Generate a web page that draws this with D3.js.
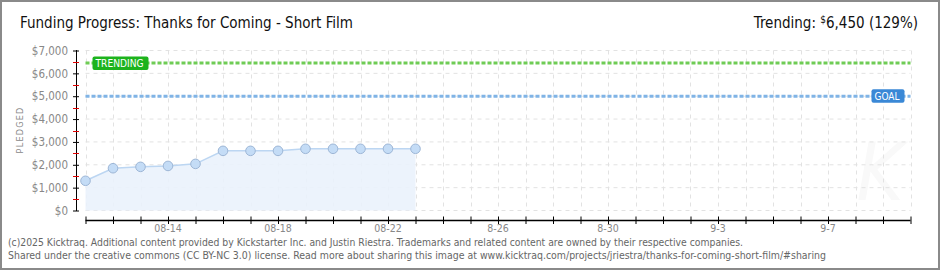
<!DOCTYPE html>
<html><head><meta charset="utf-8">
<script src="https://cdn.jsdelivr.net/npm/d3@7"></script>
<style>
html,body{margin:0;padding:0;background:#fff;}
svg{display:block;}
text{font-family:"DejaVu Sans Condensed","DejaVu Sans",sans-serif;}
</style></head>
<body><svg id="c" width="940" height="270"></svg>
<script>
const dates = ["2025-08-11","2025-08-12","2025-08-13","2025-08-14","2025-08-15","2025-08-16","2025-08-17","2025-08-18","2025-08-19","2025-08-20","2025-08-21","2025-08-22","2025-08-23"];
const pledged = [1300,1850,1910,1950,2040,2610,2610,2610,2700,2700,2700,2700,2700];
const goal = 5000;
const trending = 6450;
const yTicks = [0,1000,2000,3000,4000,5000,6000,7000];
const xLabelDates = ["2025-08-14","2025-08-18","2025-08-22","2025-08-26","2025-08-30","2025-09-03","2025-09-07"];
const xLabels = ["08-14","08-18","08-22","8-26","8-30","9-3","9-7"];
const title = "Funding Progress: Thanks for Coming - Short Film";
const footer1 = "(c)2025 Kicktraq. Additional content provided by Kickstarter Inc. and Justin Riestra. Trademarks and related content are owned by their respective companies.";
const footer2 = "Shared under the creative commons (CC BY-NC 3.0) license. Read more about sharing this image at www.kicktraq.com/projects/jriestra/thanks-for-coming-short-film/#sharing";

const svg = d3.select("#c");
const parse = d3.utcParse("%Y-%m-%d");
const x = d3.scaleUtc().domain([parse("2025-08-11"), parse("2025-09-10")]).range([85.5, 910.5]);
const y = d3.scaleLinear().domain([0,7000]).range([210.5, 50.5]);

// frame
svg.append("rect").attr("x",1).attr("y",1).attr("width",938).attr("height",268)
  .attr("fill","#fff").attr("stroke","#8a8a8a").attr("stroke-width",2);

// watermark
svg.append("text").attr("x",880).attr("y",200).attr("text-anchor","middle")
  .attr("font-size",80).attr("font-style","italic").attr("fill","#f9f9f9").text("K");

// grid
const days = d3.utcDay.range(parse("2025-08-11"), d3.utcDay.offset(parse("2025-09-10"),1));
const g = svg.append("g");
g.selectAll("line.v").data(days).join("line")
  .attr("x1",d=>Math.round(x(d))+0.5).attr("x2",d=>Math.round(x(d))+0.5)
  .attr("y1",y(7000)).attr("y2",y(0))
  .attr("stroke","#e2e2e2").attr("stroke-dasharray","4,4");
g.selectAll("line.h").data(yTicks).join("line")
  .attr("x1",x.range()[0]).attr("x2",x.range()[1])
  .attr("y1",d=>y(d)).attr("y2",d=>y(d))
  .attr("stroke","#e2e2e2").attr("stroke-dasharray","4,4");

// area + line
const pts = dates.map((d,i)=>({d:parse(d), v:pledged[i]}));
svg.append("path").datum(pts)
  .attr("d", d3.area().x(p=>x(p.d)).y0(y(0)).y1(p=>y(p.v)))
  .attr("fill","#eaf2fc").attr("opacity",0.9);
svg.append("path").datum(pts)
  .attr("d", d3.line().x(p=>x(p.d)).y(p=>y(p.v)))
  .attr("fill","none").attr("stroke","#bcd6f2").attr("stroke-width",1.5);

// goal & trending lines
svg.append("line").attr("x1",x.range()[0]).attr("x2",x.range()[1])
  .attr("y1",y(trending)).attr("y2",y(trending))
  .attr("stroke","#6fcc55").attr("stroke-width",3).attr("stroke-dasharray","4,2");
svg.append("line").attr("x1",x.range()[0]).attr("x2",x.range()[1])
  .attr("y1",y(goal)).attr("y2",y(goal))
  .attr("stroke","#80b4e6").attr("stroke-width",3).attr("stroke-dasharray","4,2");

// points
svg.selectAll("circle.p").data(pts).join("circle")
  .attr("cx",p=>x(p.d)).attr("cy",p=>y(p.v)).attr("r",4.8)
  .attr("fill","#c4dcf6").attr("stroke","#9db6d6").attr("stroke-width",1);

// label boxes
function badge(x0, w, yc, fill, txt){
  svg.append("rect").attr("x",x0).attr("y",yc-6.5).attr("width",w).attr("height",13.5)
    .attr("rx",2).attr("fill",fill);
  svg.append("text").attr("x",x0+3).attr("y",yc+4).attr("font-size",10.5)
    .attr("fill","#fff").attr("textLength",w-8).attr("lengthAdjust","spacingAndGlyphs").text(txt);
}
badge(92.5, 56, y(trending), "#1db31d", "TRENDING");
badge(871.5, 33, y(goal)-0.5, "#3a88d6", "GOAL");

// y axis
const ya = svg.append("g").attr("transform","translate(76,0)")
  .call(d3.axisLeft(y).tickValues(yTicks).tickSize(3.5).tickFormat(d=>"$"+d3.format(",")(d)));
ya.select(".domain").attr("d","M0.5,"+(y(7000)-0.5)+"V"+(y(0)+0.5)).attr("stroke","#000");
ya.selectAll(".tick line").attr("x1",-3).attr("x2",3).attr("stroke","#000");
ya.selectAll(".tick text").attr("x",-8).attr("fill","#888").attr("font-size",11.5)
  .attr("font-family","DejaVu Sans Mono, monospace");
const minors = d3.range(500,7000,1000);
svg.selectAll("line.minor").data(minors).join("line")
  .attr("x1",73).attr("x2",79).attr("y1",d=>Math.round(y(d))+0.5).attr("y2",d=>Math.round(y(d))+0.5)
  .attr("stroke","#e00000");

svg.append("text").attr("transform","translate(23,130) rotate(-90)")
  .attr("text-anchor","middle").attr("font-size",9).attr("fill","#888")
  .attr("letter-spacing",1.2).attr("font-family","DejaVu Sans Mono, monospace").text("PLEDGED");

// x axis
const xa = svg.append("g").attr("transform","translate(0,220)")
  .call(d3.axisBottom(x).tickValues(days).tickSize(0).tickFormat(""));
xa.select(".domain").attr("d","M"+x.range()[0]+",0.5H"+x.range()[1]).attr("stroke","#000").attr("stroke-width",1.5);
xa.selectAll(".tick line").attr("y1",-3.5).attr("y2",4).attr("stroke","#000");
svg.selectAll("text.xl").data(xLabelDates).join("text")
  .attr("x",d=>x(parse(d))).attr("y",232).attr("text-anchor","middle")
  .attr("font-size",10.5).attr("fill","#888").attr("font-family","DejaVu Sans Mono, monospace")
  .text((d,i)=>xLabels[i]);

// title
svg.append("text").attr("x",20).attr("y",28).attr("font-size",16).attr("fill","#111")
  .attr("textLength",333).attr("lengthAdjust","spacingAndGlyphs").text(title);

const tr = svg.append("text").attr("x",918).attr("y",28).attr("text-anchor","end")
  .attr("font-size",15).attr("fill","#111");
tr.append("tspan").text("Trending:  ");
tr.append("tspan").attr("font-size",10).attr("dy",-5).text("$");
tr.append("tspan").attr("dy",5).text(d3.format(",")(trending)+" ("+Math.round(trending/goal*100)+"%)");

// footer
svg.append("text").attr("x",8).attr("y",246).attr("font-size",10).attr("fill","#666")
  .attr("textLength",735).attr("lengthAdjust","spacingAndGlyphs").text(footer1);
svg.append("text").attr("x",8).attr("y",259).attr("font-size",10).attr("fill","#666")
  .attr("textLength",818).attr("lengthAdjust","spacingAndGlyphs").text(footer2);
</script></body></html>
